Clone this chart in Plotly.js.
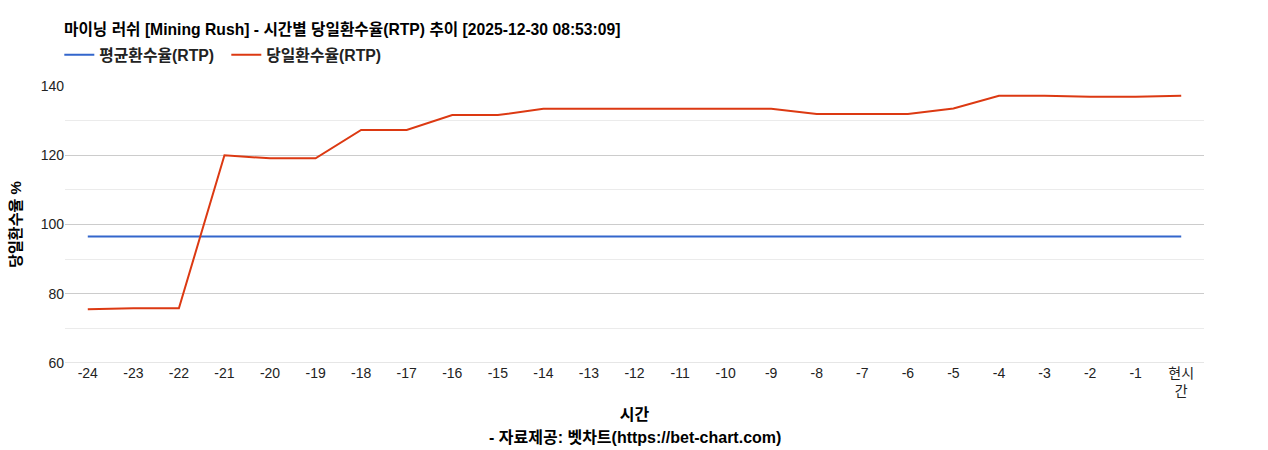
<!DOCTYPE html>
<html>
<head>
<meta charset="utf-8">
<script src="https://cdn.plot.ly/plotly-3.0.1.min.js"></script>
<style>html,body{margin:0;padding:0;background:#fff;}#chart{width:1268px;height:450px;}</style>
</head>
<body>
<div id="chart"></div>
<script>
const categories = ["-24","-23","-22","-21","-20","-19","-18","-17","-16","-15","-14","-13","-12","-11","-10","-9","-8","-7","-6","-5","-4","-3","-2","-1","현시간"];
const tickLabels = ["-24","-23","-22","-21","-20","-19","-18","-17","-16","-15","-14","-13","-12","-11","-10","-9","-8","-7","-6","-5","-4","-3","-2","-1","현시<br>간"];
const avgRtp = [96.5,96.5,96.5,96.5,96.5,96.5,96.5,96.5,96.5,96.5,96.5,96.5,96.5,96.5,96.5,96.5,96.5,96.5,96.5,96.5,96.5,96.5,96.5,96.5,96.5];
const dayRtp = [75.5,75.8,75.8,120.0,119.1,119.1,127.3,127.3,131.6,131.6,133.4,133.4,133.4,133.4,133.4,133.4,131.9,131.9,131.9,133.5,137.2,137.2,136.9,136.9,137.2];

const FONT = "'Liberation Sans', Arial, 'Noto Sans CJK KR', sans-serif";

const traces = [
  {x: categories, y: avgRtp, type: 'scatter', mode: 'lines', name: '<b>평균환수율(RTP)</b>',
   line: {color: '#3366cc', width: 2}},
  {x: categories, y: dayRtp, type: 'scatter', mode: 'lines', name: '<b>당일환수율(RTP)</b>',
   line: {color: '#dc3912', width: 2}}
];

const layout = {
  width: 1268, height: 450,
  margin: {l: 65, r: 64, t: 86, b: 87},
  paper_bgcolor: '#fff', plot_bgcolor: '#fff',
  font: {family: FONT, size: 14, color: '#222'},
  title: {text: '<b>마이닝 러쉬 [Mining Rush] - 시간별 당일환수율(RTP) 추이 [2025-12-30 08:53:09]</b>',
    x: 64/1268, xanchor: 'left', xref: 'container', y: 1 - 30/450, yanchor: 'middle', yref: 'container',
    font: {family: FONT, size: 15.7, color: '#000'}},
  showlegend: true,
  legend: {orientation: 'h', x: -0.005, xanchor: 'left', y: 1.112, yanchor: 'middle',
    font: {family: FONT, size: 15.8, color: '#222'}, itemwidth: 30, entrywidth: 122, entrywidthmode: 'pixels',
    tracegroupgap: 0, bgcolor: 'rgba(0,0,0,0)'},
  xaxis: {type: 'category', range: [-0.5, 24.5], tickmode: 'array', tickvals: categories, ticktext: tickLabels,
    showgrid: false, zeroline: false, showline: false, ticks: '',
    tickfont: {family: FONT, size: 14, color: '#222'},
    title: {text: '<b>시간</b>', font: {family: FONT, size: 16, color: '#000'}, standoff: 10}},
  yaxis: {range: [60, 140], tickvals: [60, 80, 100, 120, 140], showgrid: true, gridcolor: '#cccccc', gridwidth: 1,
    zeroline: false, showline: false, ticks: '', ticklen: 0,
    minor: {tickvals: [70, 90, 110, 130], showgrid: true, gridcolor: '#ebebeb', gridwidth: 1},
    tickfont: {family: FONT, size: 14, color: '#222'},
    title: {text: '<b>당일환수율 %</b>', font: {family: FONT, size: 15, color: '#000'}, standoff: 15}},
  annotations: [
    {text: '<b>- 자료제공: 벳차트(https://bet-chart.com)</b>', xref: 'paper', yref: 'paper',
     x: 0.5, y: -(437-363)/277, xanchor: 'center', yanchor: 'middle', showarrow: false,
     font: {family: FONT, size: 16, color: '#000'}}
  ],
  shapes: [
    {type: 'line', xref: 'paper', yref: 'y', x0: 0, x1: 1, y0: 60, y1: 60, line: {color: '#cccccc', width: 1}}
  ]
};

Plotly.newPlot('chart', traces, layout, {displayModeBar: false, staticPlot: true});
</script>
</body>
</html>
